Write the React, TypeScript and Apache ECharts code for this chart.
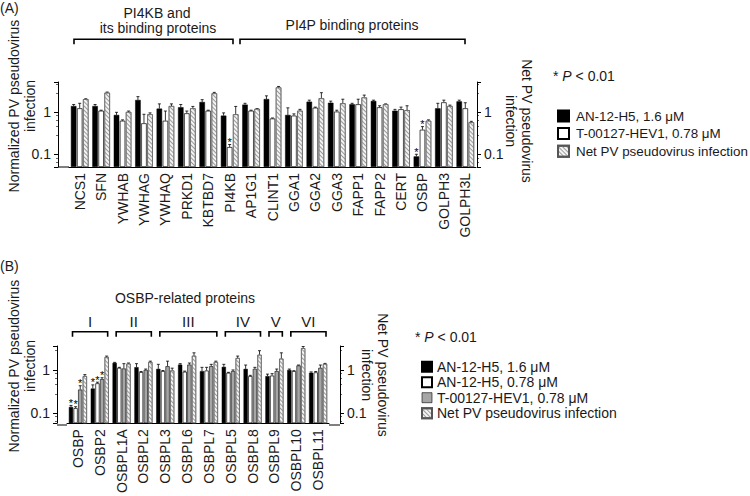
import React, { useEffect, useRef } from 'react';
import * as echarts from 'echarts';

const FONT = '"Liberation Sans", Arial, sans-serif';
const TXT = '#1a1a1a';

// ---------- Panel A data ----------
const catsA = ['NCS1', 'SFN', 'YWHAB', 'YWHAG', 'YWHAQ', 'PRKD1', 'KBTBD7', 'PI4KB', 'AP1G1', 'CLINT1', 'GGA1', 'GGA2', 'GGA3', 'FAPP1', 'FAPP2', 'CERT', 'OSBP', 'GOLPH3', 'GOLPH3L'];
const aAn16 = [1.38, 1.38, 0.85, 1.92, 1.2, 1.29, 1.72, 0.82, 1.49, 2.02, 0.85, 1.75, 1.65, 1.52, 1.82, 1.07, 0.089, 1.22, 1.78];
const aAn16Err = [1.5, 1.5, 0.98, 2.3, 1.55, 1.5, 1.95, 0.95, 1.6, 2.4, 1.25, 1.9, 1.8, 1.6, 1.9, 1.15, 0.1, 1.6, 1.9];
const aAn16Star = [0, 0, 0, 0, 0, 0, 0, 0, 0, 0, 0, 0, 0, 0, 0, 0, 1, 0, 0];
const aT078 = [1.22, 1.07, 0.62, 0.54, 0.62, 0.93, 1.07, 0.148, 1.07, 0.7, 0.82, 1.26, 1.02, 1.52, 1.29, 1.16, 0.38, 1.69, 1.22];
const aT078Err = [1.6, 1.1, 0.65, 0.88, 1.05, 1.05, 1.1, 0.17, 1.1, 0.72, 0.9, 1.3, 1.1, 2.0, 1.4, 1.3, 0.45, 1.9, 1.65];
const aT078Star = [0, 0, 0, 0, 0, 0, 0, 1, 0, 0, 0, 0, 0, 0, 0, 0, 1, 0, 0];
const aNet = [2.0, 2.85, 1.0, 0.88, 1.38, 1.22, 2.75, 0.88, 1.18, 3.8, 1.07, 2.1, 1.6, 2.2, 1.52, 1.1, 0.62, 1.38, 0.57];
const aNetErr = [2.05, 2.95, 1.05, 0.95, 1.55, 1.35, 2.9, 1.35, 1.2, 4.0, 1.15, 2.85, 2.0, 2.5, 1.55, 1.4, 0.65, 1.45, 0.6];
const aNetStar = [0, 0, 0, 0, 0, 0, 0, 0, 0, 0, 0, 0, 0, 0, 0, 0, 0, 0, 0];

// ---------- Panel B data ----------
const catsB = ['OSBP', 'OSBP2', 'OSBPL1A', 'OSBPL2', 'OSBPL3', 'OSBPL6', 'OSBPL7', 'OSBPL5', 'OSBPL8', 'OSBPL9', 'OSBPL10', 'OSBPL11'];
const bAn16 = [0.138, 0.37, 1.46, 1.16, 1.06, 1.33, 0.94, 1.18, 1.06, 0.72, 1.0, 0.86];
const bAn16Err = [0.15, 0.45, 1.5, 1.4, 1.35, 1.4, 1.15, 1.35, 1.3, 0.8, 1.05, 0.9];
const bAn16Star = [1, 1, 0, 0, 0, 0, 0, 0, 0, 0, 0, 0];
const bAn078 = [0.13, 0.49, 1.12, 0.89, 0.94, 0.91, 0.97, 0.86, 0.72, 0.74, 0.94, 0.88];
const bAn078Err = [0.14, 0.52, 1.15, 0.92, 0.97, 0.94, 1.15, 0.88, 0.75, 0.82, 0.96, 0.92];
const bAn078Star = [1, 1, 0, 0, 0, 0, 0, 0, 0, 0, 0, 0];
const bT078 = [0.35, 0.61, 1.08, 1.0, 1.22, 1.33, 1.22, 0.94, 1.06, 0.94, 1.27, 1.12];
const bT078Err = [0.43, 0.66, 1.4, 1.05, 1.6, 1.45, 1.35, 1.0, 1.15, 1.05, 1.3, 1.3];
const bT078Star = [1, 1, 0, 0, 0, 0, 0, 0, 0, 0, 0, 0];
const bNet = [0.72, 2.0, 1.4, 1.53, 0.97, 2.14, 1.53, 1.89, 2.25, 1.83, 3.2, 1.38];
const bNetErr = [0.78, 2.1, 1.45, 1.6, 1.1, 2.5, 1.6, 2.1, 2.8, 2.5, 3.5, 1.42];
const bNetStar = [0, 0, 0, 0, 0, 0, 0, 0, 0, 0, 0, 0];

const groupsB = [
  { label: 'I', from: 0, to: 1 },
  { label: 'II', from: 2, to: 3 },
  { label: 'III', from: 4, to: 6 },
  { label: 'IV', from: 7, to: 8 },
  { label: 'V', from: 9, to: 9 },
  { label: 'VI', from: 10, to: 11 },
];

const NAME_AN16 = 'AN-12-H5, 1.6 μM';
const NAME_AN078 = 'AN-12-H5, 0.78 μM';
const NAME_T078 = 'T-00127-HEV1, 0.78 μM';
const NAME_NET = 'Net PV pseudovirus infection';

const near = (v: number, t: number) => Math.abs(v - t) < t * 1e-6;

const logAxis = (grid: number, pos: string, min: number, max: number, offset: number) => ({
  type: 'log',
  logBase: 10,
  gridIndex: grid,
  position: pos,
  min,
  max,
  startValue: min,
  offset,
  axisLine: { show: true, lineStyle: { color: '#000', width: 1 } },
  axisTick: { show: true, length: 4, lineStyle: { color: '#000', width: 1 } },
  minorTick: { show: true, length: 2, splitNumber: 5, lineStyle: { color: '#000', width: 0.6 } },
  splitLine: { show: false },
  minorSplitLine: { show: false },
  axisLabel: {
    fontSize: 14,
    fontFamily: FONT,
    color: TXT,
    margin: 7,
    showMinLabel: false,
    showMaxLabel: false,
    formatter: (v: number) => (near(v, 1) ? '1' : near(v, 0.1) ? '0.1' : ''),
  },
});

const catAxis = (grid: number, cats: string[]) => ({
  type: 'category',
  gridIndex: grid,
  data: cats,
  axisLine: { show: true, lineStyle: { color: '#000', width: 1 } },
  axisTick: { show: false },
  axisLabel: { rotate: 90, interval: 0, margin: 6, fontSize: 14, fontFamily: FONT, color: TXT },
});

const hatchDecal = {
  symbol: 'rect',
  symbolSize: 1,
  color: '#9a9a9a',
  dashArrayX: [1, 0],
  dashArrayY: [1, 1.1],
  rotation: Math.PI / 4,
};

const styles: Record<string, any> = {
  black: { color: '#000', borderColor: '#000', borderWidth: 0.5 },
  white: { color: '#fff', borderColor: '#000', borderWidth: 0.7 },
  gray: { color: '#a6a6a6', borderColor: '#000', borderWidth: 0.6 },
  hatch: { color: '#f4f4f4', borderColor: '#555', borderWidth: 0.6, decal: hatchDecal },
};

const barSeries = (name: string, grid: number, values: number[], style: string, w: number, gap: number) => ({
  type: 'bar',
  name,
  xAxisIndex: grid,
  yAxisIndex: grid * 2,
  data: values,
  barWidth: w,
  barGap: `${gap * 100}%`,
  itemStyle: styles[style],
  emphasis: { disabled: true },
  silent: true,
});

const errSeries = (grid: number, values: number[], hi: number[], star: number[], idx: number, n: number, w: number, gap: number) => ({
  type: 'custom',
  xAxisIndex: grid,
  yAxisIndex: grid * 2,
  clip: false,
  silent: true,
  itemStyle: { color: '#000' },
  data: values.map((v, i) => [i, hi[i], v, star[i]]),
  renderItem: (_p: any, api: any) => {
    const cat = api.value(0);
    const top = api.coord([cat, api.value(1)]);
    const base = api.coord([cat, api.value(2)]);
    const total = n * w + (n - 1) * w * gap;
    const x = top[0] - total / 2 + idx * w * (1 + gap) + w / 2;
    const children: any[] = [
      { type: 'line', shape: { x1: x, y1: base[1], x2: x, y2: top[1] }, style: { stroke: '#000', lineWidth: 0.8 } },
      { type: 'line', shape: { x1: x - 1.5, y1: top[1], x2: x + 1.5, y2: top[1] }, style: { stroke: '#000', lineWidth: 0.8 } },
    ];
    if (api.value(3)) {
      children.push({
        type: 'text',
        x,
        y: top[1] + 3,
        style: { text: '*', font: `11px ${FONT}`, align: 'center', verticalAlign: 'bottom', fill: '#000' },
      });
    }
    return { type: 'group', children };
  },
});

const txt = (text: string, x: number, y: number, extra: any = {}) => ({
  type: 'text',
  x,
  y,
  rotation: extra.rotation || 0,
  style: {
    text,
    font: `14px ${FONT}`,
    fill: TXT,
    align: extra.align || 'center',
    verticalAlign: extra.verticalAlign || 'middle',
    lineHeight: 16,
    ...(extra.style || {}),
  },
});

const bracket = (x1: number, x2: number, y: number) => ({
  type: 'polyline',
  shape: { points: [[x1, y + 5], [x1, y], [x2, y], [x2, y + 5]] },
  style: { stroke: '#000', lineWidth: 1.6, fill: null },
});

const pText = (x: number, y: number) => ({
  type: 'text',
  x,
  y,
  style: {
    text: '{n|* }{i|P}{n| < 0.01}',
    align: 'left',
    verticalAlign: 'middle',
    rich: {
      n: { font: `14px ${FONT}`, fill: TXT },
      i: { font: `italic 14px ${FONT}`, fill: TXT },
    },
  },
});

// Panel B band geometry for the group brackets
const gridBLeft = 67;
const gridBWidth = 262;
const bandB = gridBWidth / catsB.length;

export default function App() {
  const ref = useRef<HTMLDivElement>(null);
  useEffect(() => {
    const chart = echarts.init(ref.current!, null, { renderer: 'svg' });
    const wA = 5.5, gA = 0.1, wB = 4.2, gB = 0.1;
    const graphic: any[] = [
      txt('(A)', 0, 0, { align: 'left', verticalAlign: 'top' }),
      txt('(B)', 0, 258, { align: 'left', verticalAlign: 'top' }),
      bracket(74, 233, 39.3),
      bracket(240, 465, 39.3),
      txt('PI4KB and', 157, 12.5),
      txt('its binding proteins', 158, 28),
      txt('PI4P binding proteins', 352, 25),
      txt('Normalized PV pseudovirus\ninfection', 22, 106, { rotation: Math.PI / 2 }),
      txt('Net PV pseudovirus\ninfection', 519, 121, { rotation: -Math.PI / 2 }),
      txt('Normalized PV pseudovirus\ninfection', 22, 366, { rotation: Math.PI / 2 }),
      txt('Net PV pseudovirus\ninfection', 375, 375, { rotation: -Math.PI / 2 }),
      txt('OSBP-related proteins', 185, 298),
      pText(553, 76),
      pText(415, 337),
      { type: 'line', shape: { x1: 58, y1: 167, x2: 69, y2: 167 }, style: { stroke: '#000', lineWidth: 1 } },
      { type: 'line', shape: { x1: 57, y1: 425, x2: 67, y2: 425 }, style: { stroke: '#000', lineWidth: 1 } },
      { type: 'line', shape: { x1: 329, y1: 425, x2: 340, y2: 425 }, style: { stroke: '#000', lineWidth: 1 } },
    ];
    groupsB.forEach((g) => {
      const x1 = gridBLeft + g.from * bandB + 5.5;
      const x2 = gridBLeft + (g.to + 1) * bandB - 3;
      graphic.push(bracket(x1, x2, 331.7));
      graphic.push(txt(g.label, (x1 + x2) / 2, 321.7, { style: { font: `15px ${FONT}` } }));
    });

    const legendText = { fontSize: 14, fontFamily: FONT, color: TXT, lineHeight: 14 };
    const option: any = {
      animation: false,
      backgroundColor: '#fff',
      grid: [
        { left: 69, top: 82, width: 407, height: 85 },
        { left: gridBLeft, top: 346, width: gridBWidth, height: 79 },
      ],
      xAxis: [catAxis(0, catsA), catAxis(1, catsB)],
      yAxis: [
        logAxis(0, 'left', 0.05, 5.1, 11),
        logAxis(0, 'right', 0.05, 5.1, 1),
        logAxis(1, 'left', 0.058, 3.6, 10),
        logAxis(1, 'right', 0.058, 3.6, 11),
      ],
      legend: [
        {
          left: 552, top: 104, orient: 'vertical', icon: 'rect', itemWidth: 11, itemHeight: 11, itemGap: 3.6,
          selectedMode: false, textStyle: { ...legendText, fontSize: 13.4, padding: [0, 0, 0, 2] },
          data: [NAME_AN16, NAME_T078, NAME_NET],
        },
        {
          left: 416, top: 354.7, orient: 'vertical', icon: 'rect', itemWidth: 10, itemHeight: 10, itemGap: 1.5,
          selectedMode: false, textStyle: legendText,
          data: [
            NAME_AN16,
            NAME_AN078,
            { name: NAME_T078, itemStyle: { color: '#a6a6a6', borderColor: '#000', borderWidth: 0.6, decal: 'none' } },
            NAME_NET,
          ],
        },
      ],
      graphic,
      series: [
        barSeries(NAME_AN16, 0, aAn16, 'black', wA, gA),
        barSeries(NAME_T078, 0, aT078, 'white', wA, gA),
        barSeries(NAME_NET, 0, aNet, 'hatch', wA, gA),
        errSeries(0, aAn16, aAn16Err, aAn16Star, 0, 3, wA, gA),
        errSeries(0, aT078, aT078Err, aT078Star, 1, 3, wA, gA),
        errSeries(0, aNet, aNetErr, aNetStar, 2, 3, wA, gA),
        barSeries(NAME_AN16, 1, bAn16, 'black', wB, gB),
        barSeries(NAME_AN078, 1, bAn078, 'white', wB, gB),
        barSeries(NAME_T078, 1, bT078, 'gray', wB, gB),
        barSeries(NAME_NET, 1, bNet, 'hatch', wB, gB),
        errSeries(1, bAn16, bAn16Err, bAn16Star, 0, 4, wB, gB),
        errSeries(1, bAn078, bAn078Err, bAn078Star, 1, 4, wB, gB),
        errSeries(1, bT078, bT078Err, bT078Star, 2, 4, wB, gB),
        errSeries(1, bNet, bNetErr, bNetStar, 3, 4, wB, gB),
      ],
    };
    chart.setOption(option);
    return () => chart.dispose();
  }, []);
  return (
    <div
      ref={ref}
      style={{ position: 'fixed', left: 0, top: 0, width: 750, height: 496, background: '#fff' }}
    />
  );
}
